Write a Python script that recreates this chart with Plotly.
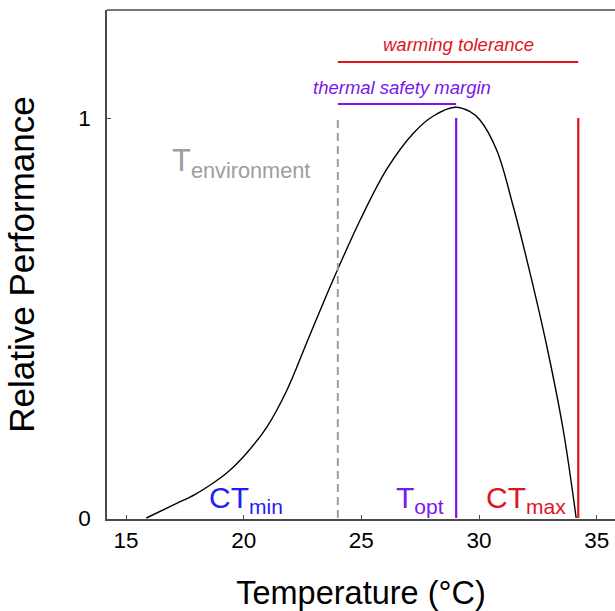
import plotly.graph_objects as go

# Thermal performance curve
temperature = [15.86, 17.17, 17.9, 18.58, 19.29, 19.99, 20.99, 21.84, 22.69, 23.54, 23.96,
               24.95, 26.08, 27.21, 28.06, 28.98, 29.62, 30.04, 30.75, 31.46, 32.17,
               32.88, 33.58, 34.13]
performance = [0.0, 0.037, 0.058, 0.0825, 0.113, 0.153, 0.228, 0.32, 0.44, 0.56, 0.617,
               0.745, 0.872, 0.962, 1.005, 1.027, 1.016, 0.995, 0.92, 0.778, 0.612,
               0.43, 0.22, 0.0]

# Key temperatures
T_ENV = 24.0
T_OPT = 29.03
CT_MIN = 15.86
CT_MAX = 34.22

# Bracket levels
WARMING_LEVEL = 1.14
TSM_LEVEL = 1.035

x_ticks = [15, 20, 25, 30, 35]
y_ticks = [0, 1]

RED = "#DE161C"
PURPLE = "#7A16EE"
BLUE = "#1E1EFA"
GRAY = "#9E9E9E"
AXIS = "#4A4A4A"
FONT = "Arial, Liberation Sans, sans-serif"

fig = go.Figure()

fig.add_trace(go.Scatter(x=temperature, y=performance, mode="lines",
                         line=dict(color="black", width=1.4, shape="spline", smoothing=1.0),
                         showlegend=False, hoverinfo="skip"))

# vertical markers
fig.add_trace(go.Scatter(x=[T_ENV, T_ENV], y=[0, 1], mode="lines",
                         line=dict(color=GRAY, width=2, dash="8px,5px"), showlegend=False))
fig.add_trace(go.Scatter(x=[T_OPT, T_OPT], y=[0, 1], mode="lines",
                         line=dict(color=PURPLE, width=2.2), showlegend=False))
fig.add_trace(go.Scatter(x=[CT_MAX, CT_MAX], y=[0, 1], mode="lines",
                         line=dict(color=RED, width=2.2), showlegend=False))
# horizontal brackets
fig.add_trace(go.Scatter(x=[T_ENV, CT_MAX], y=[WARMING_LEVEL, WARMING_LEVEL], mode="lines",
                         line=dict(color=RED, width=2.2), showlegend=False))
fig.add_trace(go.Scatter(x=[T_ENV, T_OPT], y=[TSM_LEVEL, TSM_LEVEL], mode="lines",
                         line=dict(color=PURPLE, width=2.2), showlegend=False))

ann = []
ann.append(dict(x=(T_ENV + CT_MAX) / 2, y=1.185, text="<i>warming tolerance</i>",
                font=dict(color=RED, size=18.5, family=FONT), showarrow=False,
                xanchor="center", yanchor="middle"))
ann.append(dict(x=26.73, y=1.0775, text="<i>thermal safety margin</i>",
                font=dict(color=PURPLE, size=18.5, family=FONT), showarrow=False,
                xanchor="center", yanchor="middle"))
ann.append(dict(x=16.85, y=0.8875, text="T<sub>environment</sub>",
                font=dict(color=GRAY, size=31, family=FONT), showarrow=False,
                xanchor="left", yanchor="middle"))
ann.append(dict(x=20.08, y=0, text="CT<sub>min</sub>",
                font=dict(color=BLUE, size=30, family=FONT), showarrow=False,
                xanchor="center", yanchor="bottom", yshift=-2))
ann.append(dict(x=27.49, y=0, text="T<sub>opt</sub>",
                font=dict(color=PURPLE, size=30, family=FONT), showarrow=False,
                xanchor="center", yanchor="bottom", yshift=-2))
ann.append(dict(x=31.98, y=0, text="CT<sub>max</sub>",
                font=dict(color=RED, size=30, family=FONT), showarrow=False,
                xanchor="center", yanchor="bottom", yshift=-2))

fig.update_layout(
    width=615, height=611,
    margin=dict(l=107, r=0, t=10, b=92),
    paper_bgcolor="white", plot_bgcolor="white",
    font=dict(family=FONT, color="black"),
    annotations=ann,
    shapes=[dict(type="line", xref="paper", yref="paper", x0=0, x1=1, y0=1, y1=1,
                 line=dict(color=AXIS, width=1.5))],
    xaxis=dict(range=[14.19, 35.78], tickvals=x_ticks, ticks="inside", ticklen=4,
               tickcolor=AXIS, showline=True, linecolor=AXIS, linewidth=1.5,
               showgrid=False, zeroline=False, tickfont=dict(size=22.5), automargin=False,
               title=dict(text="Temperature (°C)", font=dict(size=32.5), standoff=36)),
    yaxis=dict(range=[-0.0025, 1.27], tickvals=y_ticks, ticks="inside", ticklen=4,
               tickcolor=AXIS, showline=True, linecolor=AXIS, linewidth=1.5,
               showgrid=False, zeroline=False, tickfont=dict(size=22.5), automargin=False,
               ticklabelstandoff=10,
               title=dict(text="Relative Performance", font=dict(size=35), standoff=33)),
)

fig.write_html("out.html", config={"displayModeBar": False},
               post_script="document.body.style.margin='0';")
